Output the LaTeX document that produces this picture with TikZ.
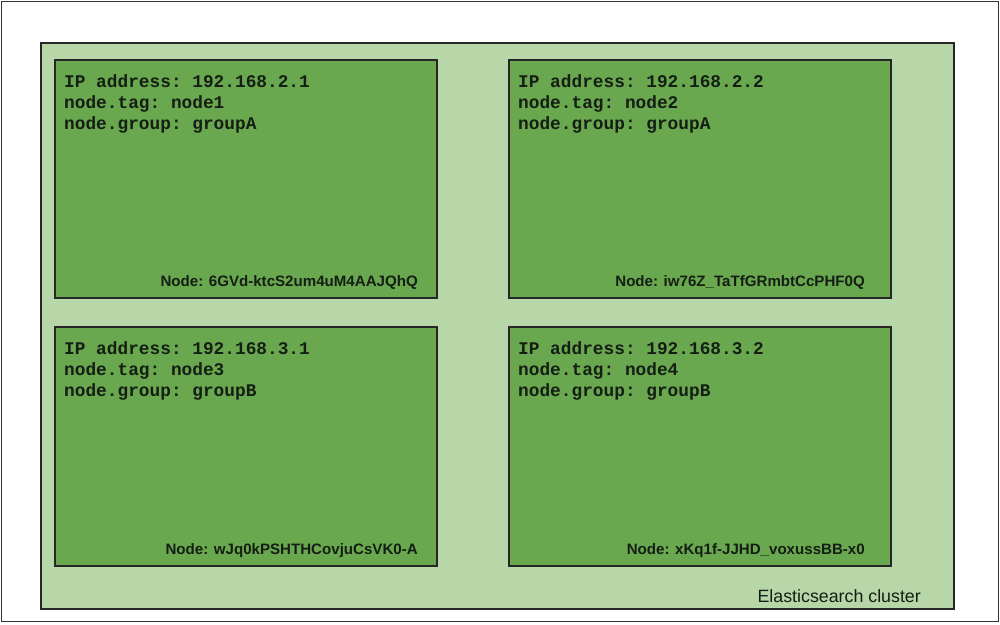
\documentclass[tikz,border=0pt]{standalone}
\usepackage{fontspec}
\setmainfont{Liberation Sans}
\setmonofont{Liberation Mono}
\definecolor{clusterfill}{RGB}{183,215,168}
\definecolor{nodefill}{RGB}{106,168,79}
\definecolor{textdark}{RGB}{20,30,20}
\tikzset{
  esnode/.style={draw=black!85,line width=1.3pt,fill=nodefill},
  props/.style={anchor=base west,inner sep=0pt,align=left,text=textdark,
    font=\ttfamily\bfseries\fontsize{17.8}{21}\selectfont},
  nodeid/.style={anchor=base east,inner sep=0pt,text=textdark,
    font=\bfseries\fontsize{15.1}{18}\selectfont}
}
\begin{document}
\begin{tikzpicture}[x=1pt,y=-1pt]
      \useasboundingbox (0,0) rectangle (1000,624);
      \draw[black!80,line width=1pt] (1,1) rectangle (998,621);
      \draw[fill=clusterfill,draw=black!85,line width=1.3pt] (41,43) rectangle (954,609);
      \draw[esnode] (55,60) rectangle (437,298);
      \draw[esnode] (509,60) rectangle (891,298);
      \draw[esnode] (55,327) rectangle (437,566);
      \draw[esnode] (509,327) rectangle (891,566);
      \draw
        (64,129) node[props] (1){IP address: 192.168.2.1\\node.tag: node1\\node.group: groupA}
        (518,129) node[props] (2){IP address: 192.168.2.2\\node.tag: node2\\node.group: groupA}
        (64,396) node[props] (3){IP address: 192.168.3.1\\node.tag: node3\\node.group: groupB}
        (518,396) node[props] (4){IP address: 192.168.3.2\\node.tag: node4\\node.group: groupB};
      \draw
        (418,286) node[nodeid] (id1){Node: 6GVd-ktcS2um4uM4AAJQhQ}
        (865,286) node[nodeid] (id2){Node: iw76Z\_TaTfGRmbtCcPHF0Q}
        (418,554) node[nodeid] (id3){Node: wJq0kPSHTHCovjuCsVK0-A}
        (865,554) node[nodeid] (id4){Node: xKq1f-JJHD\_voxussBB-x0};
      \node[anchor=base east,inner sep=0pt,text=textdark,font=\fontsize{17.8}{21}\selectfont]
        (cluster) at (921,602) {Elasticsearch cluster};
    \end{tikzpicture}
\end{document}
